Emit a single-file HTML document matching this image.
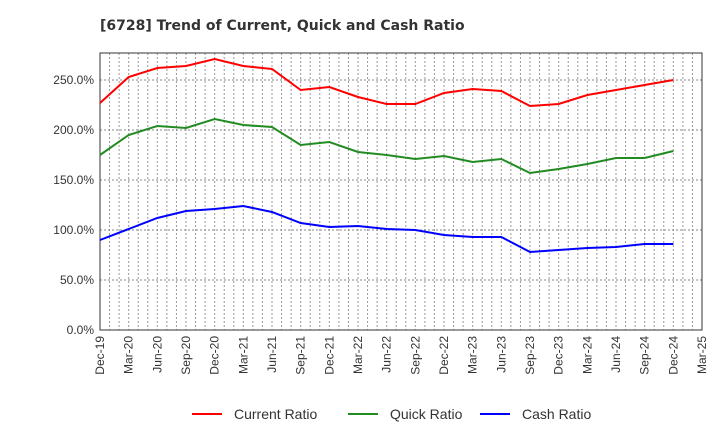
<!DOCTYPE html>
<html><head><meta charset="utf-8"><style>
body{margin:0;background:#fff;font-family:"Liberation Sans",sans-serif}
</style></head><body>
<svg id="c" width="720" height="440" xmlns="http://www.w3.org/2000/svg">
<text x="100" y="30" font-size="14" font-weight="bold" fill="#333" font-family="DejaVu Sans, sans-serif">[6728]  Trend of Current, Quick and Cash Ratio</text>
<g id="grid"></g><g id="axes"></g><g id="series"></g><g id="legend"></g>
</svg>
<script>
const categories=["Dec-19","Mar-20","Jun-20","Sep-20","Dec-20","Mar-21","Jun-21","Sep-21","Dec-21","Mar-22","Jun-22","Sep-22","Dec-22","Mar-23","Jun-23","Sep-23","Dec-23","Mar-24","Jun-24","Sep-24","Dec-24","Mar-25"];
const currentRatio=[227,253,262,264,271,264,261,240,243,233,226,226,237,241,239,224,226,235,240,245,250];
const quickRatio=[175,195,204,202,211,205,203,185,188,178,175,171,174,168,171,157,161,166,172,172,179];
const cashRatio=[90,101,112,119,121,124,118,107,103,104,101,100,95,93,93,78,80,82,83,86,86];
const yTicks=[0,50,100,150,200,250];
const L=100,R=702,T=53,B=330,YMAX=277;
const NS="http://www.w3.org/2000/svg";
const xs=i=>L+i*(R-L)/(categories.length-1);
const ys=v=>B-v*(B-T)/YMAX;
function mk(tag,attrs,parent){const e=document.createElementNS(NS,tag);for(const k in attrs)e.setAttribute(k,attrs[k]);parent.appendChild(e);return e;}
const grid=document.getElementById('grid'),axes=document.getElementById('axes'),series=document.getElementById('series'),legend=document.getElementById('legend');
for(let i=0;i<categories.length;i++){for(let j=0;j<3;j++){const x=xs(i)+j*(R-L)/(categories.length-1)/3;if(x>=R)continue;
const g=mk('line',{x1:x,x2:x,y1:T,y2:B,stroke:'#999','stroke-dasharray':'2,2','stroke-width':1},grid);

}}
yTicks.forEach(v=>{const g=mk('line',{x1:L,x2:R,y1:ys(v),y2:ys(v),stroke:'#888','stroke-dasharray':'2,2','stroke-width':1},grid);


const t=mk('text',{x:L-6,y:ys(v)+4,'text-anchor':'end','font-size':12,fill:'#333'},axes);t.textContent=v.toFixed(1)+'%';

});
const fr=mk('rect',{x:L,y:T,width:R-L,height:B-T,fill:'none',stroke:'#333','stroke-width':1},axes);


categories.forEach((c,i)=>{const t=mk('text',{transform:`translate(${xs(i)+4},${B+6}) rotate(-90)`,'text-anchor':'end','font-size':12,fill:'#333'},axes);t.textContent=c;

});
[[currentRatio,'#f00','current-ratio-line'],[quickRatio,'#228b22','quick-ratio-line'],[cashRatio,'#00f','cash-ratio-line']].forEach(([d,col,n])=>{
const p=mk('polyline',{points:d.map((v,i)=>xs(i)+','+ys(v)).join(' '),fill:'none',stroke:col,'stroke-width':2},series);

});
[['Current Ratio','#f00',192],['Quick Ratio','#228b22',348],['Cash Ratio','#00f',480]].forEach(([lab,col,x])=>{
const l=mk('line',{x1:x,x2:x+30,y1:414,y2:414,stroke:col,'stroke-width':2},legend);


const t=mk('text',{x:x+42,y:419,'font-size':14,fill:'#333'},legend);t.textContent=lab;

});
</script>
</body></html>
